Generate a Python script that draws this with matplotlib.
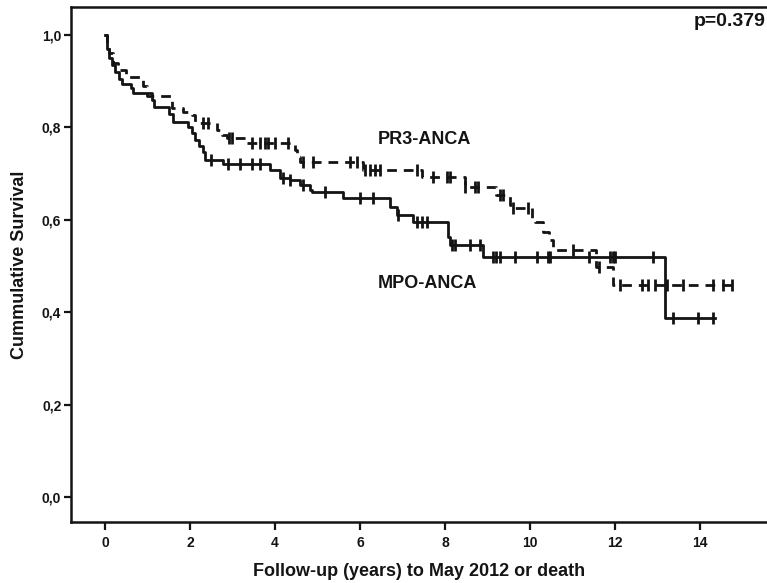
import numpy as np
import matplotlib
matplotlib.use("Agg")
import matplotlib.pyplot as plt

# MPO-ANCA (solid): step times (years) and survival after each step
mpo_times = [0.0, 0.05, 0.1, 0.16, 0.24, 0.33, 0.40, 0.62, 0.65, 1.10, 1.15, 1.50, 1.60,
             1.95, 2.05, 2.12, 2.22, 2.30, 2.35, 2.78, 3.88, 4.12, 4.35, 4.59, 4.82, 4.87,
             5.60, 6.70, 6.87, 7.25, 8.07, 8.12, 8.89, 13.18]
mpo_surv = [1.0, 0.97, 0.95, 0.935, 0.92, 0.905, 0.895, 0.885, 0.875, 0.86, 0.845, 0.83,
            0.812, 0.80, 0.788, 0.773, 0.76, 0.747, 0.729, 0.721, 0.708, 0.69, 0.686,
            0.675, 0.665, 0.66, 0.647, 0.628, 0.61, 0.595, 0.563, 0.545, 0.52, 0.387]
mpo_end = 14.35
mpo_censor = [2.5, 2.9, 3.18, 3.46, 3.65, 4.2, 4.35, 4.65, 5.18, 6.0, 6.3, 6.9, 7.34,
              7.45, 7.58, 8.17, 8.23, 8.59, 8.82, 9.13, 9.2, 9.3, 9.65, 10.16, 10.42,
              10.47, 11.39, 11.88, 11.95, 12.0, 12.9, 13.36, 13.95, 14.31]

# PR3-ANCA (dashed)
pr3_times = [0.0, 0.05, 0.1, 0.2, 0.3, 0.5, 0.9, 1.0, 1.58, 1.84, 2.05, 2.12, 2.64, 2.75,
             2.87, 3.34, 4.47, 4.52, 4.59, 6.07, 7.45, 8.47, 9.20, 9.53, 9.58, 10.05,
             10.13, 10.30, 10.45, 10.54, 11.55, 11.95]
pr3_surv = [1.0, 0.98, 0.96, 0.94, 0.925, 0.91, 0.89, 0.868, 0.842, 0.833, 0.827, 0.81,
            0.794, 0.784, 0.777, 0.766, 0.751, 0.736, 0.725, 0.708, 0.693, 0.671, 0.654,
            0.632, 0.626, 0.604, 0.595, 0.574, 0.556, 0.535, 0.498, 0.459]
pr3_end = 14.9
pr3_censor = [2.3, 2.42, 2.92, 2.99, 3.46, 3.65, 3.76, 3.84, 4.0, 4.3, 4.66, 4.89, 5.76,
              5.93, 6.12, 6.24, 6.35, 6.47, 7.34, 7.72, 8.05, 8.12, 8.47, 8.7, 8.78,
              9.29, 9.36, 9.6, 9.95, 11.01, 11.62, 12.12, 12.64, 12.78, 12.94, 13.22,
              13.6, 14.31, 14.54, 14.75]

x_ticks = [0, 2, 4, 6, 8, 10, 12, 14]
y_ticks = [0.0, 0.2, 0.4, 0.6, 0.8, 1.0]
y_tick_labels = ["0,0", "0,2", "0,4", "0,6", "0,8", "1,0"]

plt.rcParams["font.family"] = ["Liberation Sans", "DejaVu Sans"]
plt.rcParams["font.weight"] = "bold"


def step_value(times, surv, t):
    i = np.searchsorted(times, t, side="right") - 1
    return np.asarray(surv)[i]


fig = plt.figure(figsize=(7.67, 5.83), dpi=100)
ax = fig.add_axes([71 / 767, 61 / 583, 696 / 767, 515 / 583])

for times, surv, end, cens, ls in [
    (mpo_times, mpo_surv, mpo_end, mpo_censor, "-"),
    (pr3_times, pr3_surv, pr3_end, pr3_censor, (0, (3.5, 2.5))),
]:
    tx = list(times) + [end]
    sy = list(surv) + [surv[-1]]
    ax.plot(tx, sy, drawstyle="steps-post", color="#141414", lw=2.0, linestyle=ls)
    cy = step_value(times, surv, np.array(cens))
    ax.plot(cens, cy, linestyle="none", marker="|", markersize=8,
            markeredgewidth=2.0, color="#141414")

ax.text(6.42, 0.773, "PR3-ANCA", fontsize=13, fontweight="bold",
        va="center", ha="left", color="#141414")
ax.text(6.42, 0.463, "MPO-ANCA", fontsize=13, fontweight="bold",
        va="center", ha="left", color="#141414")
ax.text(13.85, 1.03, "p=0.379", fontsize=14, fontweight="bold",
        va="center", ha="left", color="#141414")

ax.set_xlim(-0.8, 15.58)
ax.set_ylim(-0.054, 1.0606)
ax.set_xticks(x_ticks)
ax.set_yticks(y_ticks)
ax.set_yticklabels(y_tick_labels)
ax.tick_params(axis="x", length=6, width=1.6, labelsize=10, pad=4, colors="#141414")
ax.tick_params(axis="y", length=5, width=1.6, labelsize=10, pad=2, colors="#141414")
for lbl in ax.get_xticklabels() + ax.get_yticklabels():
    lbl.set_fontweight("bold")

ax.spines["right"].set_visible(False)
for s in ["left", "bottom", "top"]:
    ax.spines[s].set_linewidth(1.8)
    ax.spines[s].set_color("#141414")

ax.set_xlabel("Follow-up (years) to May 2012 or death", fontsize=13, fontweight="bold",
              color="#141414")
ax.set_ylabel("Cummulative Survival", fontsize=13, fontweight="bold", color="#141414")
ax.xaxis.set_label_coords(0.5, -0.08)
ax.yaxis.set_label_coords(-0.062, 0.5)

fig.savefig("out.png", dpi=100)
plt.close(fig)
